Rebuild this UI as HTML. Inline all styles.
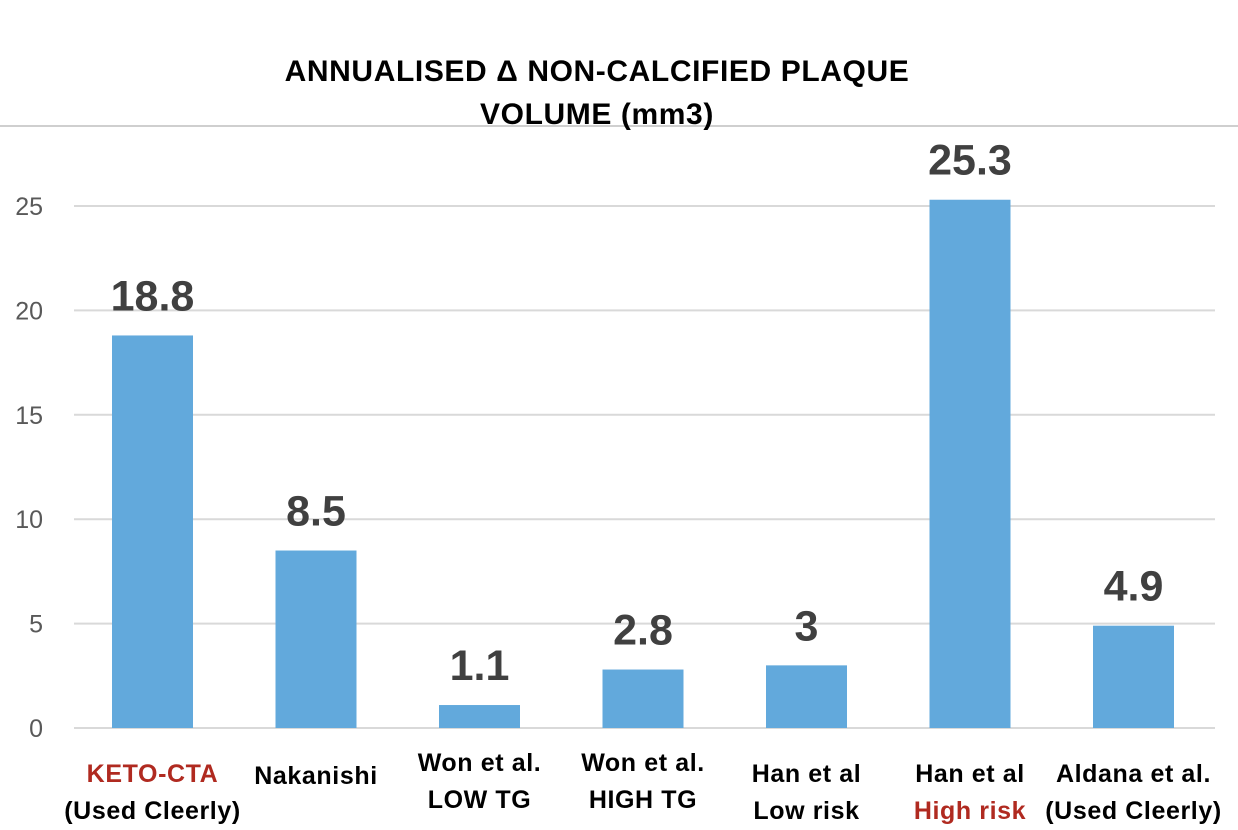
<!DOCTYPE html>
<html><head><meta charset="utf-8"><style>
body{margin:0;background:#fff;}
svg{display:block;font-family:"Liberation Sans",sans-serif;}
</style></head><body>
<svg id="chart" width="1238" height="830">
<line x1="0" y1="126" x2="1238" y2="126" stroke="#cfcfcf" stroke-width="2"/>
<text x="597" y="81" text-anchor="middle" font-size="30" font-weight="bold" letter-spacing="0.6" fill="#000">ANNUALISED Δ NON-CALCIFIED PLAQUE</text>
<text x="597" y="124" text-anchor="middle" font-size="30" font-weight="bold" letter-spacing="0.6" fill="#000">VOLUME (mm3)</text>
<g id="grid"></g><g id="bars"></g><g id="cats"></g>
</svg>
<script>
const categories=[["KETO-CTA","(Used Cleerly)"],["Nakanishi"],["Won et al.","LOW TG"],["Won et al.","HIGH TG"],["Han et al","Low risk"],["Han et al","High risk"],["Aldana et al.","(Used Cleerly)"]];
const values=[18.8,8.5,1.1,2.8,3,25.3,4.9];
const valueLabels=["18.8","8.5","1.1","2.8","3","25.3","4.9"];
const yTicks=[0,5,10,15,20,25];
const NS="http://www.w3.org/2000/svg";
const y=v=>728-v*20.88;
const x=i=>152.5+i*163.5;
function mk(t,a,p){const e=document.createElementNS(NS,t);for(const k in a)e.setAttribute(k,a[k]);p.appendChild(e);return e;}
const g=document.getElementById('grid'),b=document.getElementById('bars'),c=document.getElementById('cats');
yTicks.forEach(t=>{
 const l=mk('line',{x1:74,x2:1215,y1:y(t),y2:y(t),stroke:'#d9d9d9','stroke-width':2},g);
 
 
 const tx=mk('text',{x:43,y:y(t)+9,'text-anchor':'end','font-size':25,fill:'#595959'},g);
 tx.textContent=t;
 
 
});
values.forEach((v,i)=>{
 const r=mk('rect',{x:x(i)-40.5,y:y(v),width:81,height:728-y(v),fill:'#62a9dc'},b);
 
 
 const t=mk('text',{x:x(i),y:y(v)-25,'text-anchor':'middle','font-size':43,'font-weight':'bold',fill:'#404040'},b);
 t.textContent=valueLabels[i];
 
 
 const lines=categories[i];
 const y0=lines.length===1?784:(i===2||i===3?771:782);
 lines.forEach((s,j)=>{
  const red=(i===0&&j===0)||(i===5&&j===1);
  const ct=mk('text',{x:x(i),y:y0+j*37,'text-anchor':'middle','font-size':25,'font-weight':'bold','letter-spacing':0.6,fill:red?'#b02a20':'#000'},c);
  ct.textContent=s;
  
  
 });
});
</script>
</body></html>
